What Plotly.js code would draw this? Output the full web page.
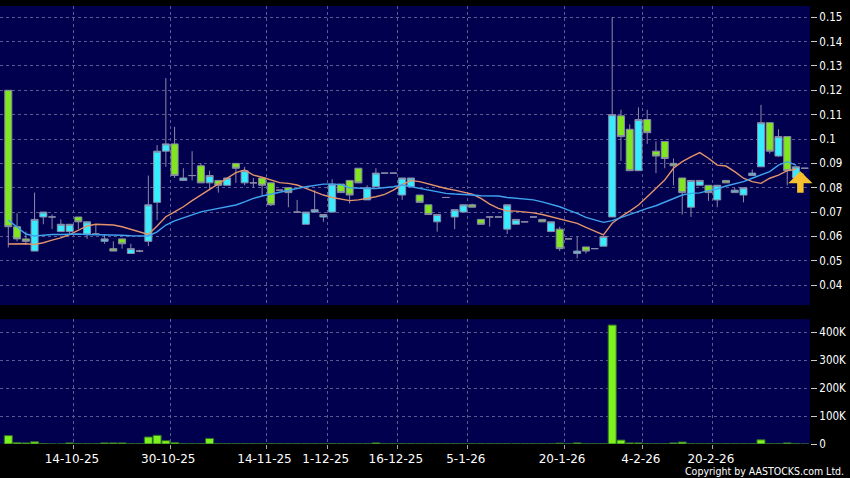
<!DOCTYPE html>
<html><head><meta charset="utf-8">
<script src="https://cdn.plot.ly/plotly-3.0.1.min.js"></script>
<style>html,body{margin:0;padding:0;background:#000;}#chart{width:850px;height:478px;}</style>
</head><body><div id="chart"></div>
<script>
// Daily OHLC (one entry per trading slot)
const openP = [0.120,0.064,0.059,0.054,0.068,0.068,0.062,0.062,0.068,0.061,
  0.061,0.058,0.055,0.059,0.053,0.054,0.058,0.074,0.095,0.098,
  0.083,0.085,0.089,0.082,0.083,0.081,0.090,0.082,0.082,0.084,
  0.082,0.079,0.080,0.070,0.065,0.070,0.068,0.070,0.0815,0.083,
  0.088,0.075,0.0805,0.086,0.086,0.077,0.0805,0.077,0.073,0.066,
  0.076,0.068,0.070,0.073,0.067,0.068,0.068,0.063,0.065,0.066,
  0.068,0.067,0.062,0.063,0.059,0.053,0.0557,0.055,0.056,0.068,
  0.1095,0.104,0.087,0.108,0.095,0.099,0.090,0.084,0.072,0.081,
  0.081,0.075,0.083,0.078,0.077,0.085,0.0886,0.1067,0.093,0.101,
  0.084,0.088];
const highP = [0.120,0.0695,0.062,0.078,0.070,0.069,0.067,0.065,0.068,0.066,
  0.065,0.061,0.058,0.059,0.057,0.0545,0.085,0.0975,0.125,0.105,
  0.088,0.095,0.090,0.087,0.083,0.084,0.090,0.0886,0.084,0.084,
  0.082,0.079,0.080,0.075,0.070,0.079,0.069,0.0835,0.0815,0.083,
  0.088,0.081,0.088,0.086,0.086,0.084,0.084,0.077,0.073,0.069,
  0.076,0.071,0.073,0.0735,0.067,0.068,0.068,0.073,0.067,0.066,
  0.068,0.067,0.066,0.064,0.059,0.060,0.0557,0.055,0.060,0.150,
  0.112,0.106,0.113,0.112,0.099,0.099,0.092,0.084,0.083,0.083,
  0.081,0.081,0.083,0.080,0.080,0.0875,0.114,0.1067,0.104,0.101,
  0.089,0.088];
const lowP = [0.0555,0.058,0.0565,0.054,0.065,0.063,0.062,0.0605,0.063,0.059,
  0.061,0.057,0.054,0.055,0.053,0.0535,0.056,0.0667,0.0886,0.084,
  0.083,0.083,0.082,0.079,0.078,0.081,0.082,0.081,0.080,0.0766,
  0.0725,0.079,0.072,0.070,0.065,0.070,0.066,0.070,0.078,0.0735,
  0.082,0.075,0.0805,0.086,0.086,0.075,0.0805,0.074,0.069,0.062,
  0.076,0.063,0.070,0.072,0.065,0.064,0.068,0.061,0.065,0.066,
  0.068,0.066,0.062,0.054,0.059,0.051,0.053,0.055,0.056,0.068,
  0.091,0.087,0.087,0.098,0.086,0.088,0.081,0.069,0.068,0.081,
  0.0746,0.072,0.082,0.078,0.074,0.085,0.0886,0.094,0.0927,0.081,
  0.084,0.088];
const closeP = [0.064,0.059,0.058,0.067,0.070,0.068,0.065,0.065,0.066,0.066,
  0.061,0.059,0.054,0.057,0.055,0.054,0.073,0.095,0.098,0.085,
  0.084,0.085,0.082,0.085,0.081,0.084,0.088,0.087,0.082,0.081,
  0.073,0.079,0.078,0.070,0.070,0.071,0.069,0.0815,0.078,0.077,
  0.082,0.080,0.086,0.086,0.086,0.084,0.084,0.074,0.069,0.069,
  0.076,0.071,0.073,0.072,0.065,0.068,0.068,0.073,0.067,0.066,
  0.068,0.066,0.066,0.055,0.059,0.054,0.054,0.055,0.060,0.110,
  0.101,0.087,0.108,0.1026,0.093,0.092,0.089,0.078,0.083,0.083,
  0.078,0.081,0.082,0.079,0.080,0.086,0.1067,0.095,0.101,0.087,
  0.0886,0.088];
// Moving averages as drawn on the chart (short = orange, long = blue)
const maShort = [0.0569,0.0571,0.0570,0.0567,0.0574,0.0585,0.0594,0.0608,0.0626,0.0643,
  0.0650,0.0650,0.0647,0.0640,0.0630,0.0620,0.0608,0.0643,0.0681,0.0701,
  0.0722,0.0747,0.0770,0.0791,0.0814,0.0839,0.0862,0.0873,0.0852,0.0843,
  0.0832,0.0821,0.0818,0.0811,0.0797,0.0783,0.0770,0.0760,0.0752,0.0747,
  0.0750,0.0756,0.0763,0.0773,0.0790,0.0813,0.0829,0.0825,0.0815,0.0807,
  0.0797,0.0790,0.0781,0.0774,0.0756,0.0733,0.0715,0.0705,0.0704,0.0701,
  0.0697,0.0690,0.0681,0.0672,0.0660,0.0654,0.0637,0.0623,0.0606,0.0654,
  0.0681,0.0704,0.0729,0.0763,0.0797,0.0832,0.0880,0.0907,0.0927,0.0944,
  0.0921,0.0893,0.0889,0.0866,0.0839,0.0825,0.0818,0.0839,0.0852,0.0870,
  0.0876,null];
const maLong = [0.0667,0.0640,0.0610,0.0602,0.0606,0.0608,0.0608,0.0610,0.0610,0.0608,
  0.0608,0.0608,0.0606,0.0605,0.0603,0.0603,0.0602,0.0619,0.0647,0.0664,
  0.0677,0.0691,0.0701,0.0708,0.0715,0.0719,0.0729,0.0742,0.0756,0.0766,
  0.0774,0.0784,0.0790,0.0797,0.0804,0.0811,0.0815,0.0815,0.0813,0.0800,
  0.0797,0.0797,0.0797,0.0800,0.0804,0.0811,0.0804,0.0797,0.0790,0.0784,
  0.0777,0.0774,0.0773,0.0770,0.0767,0.0767,0.0766,0.0760,0.0756,0.0752,
  0.0750,0.0742,0.0733,0.0722,0.0708,0.0695,0.0678,0.0667,0.0658,0.0665,
  0.0678,0.0692,0.0704,0.0715,0.0726,0.0740,0.0756,0.0770,0.0777,0.0779,
  0.0788,0.0795,0.0807,0.0815,0.0825,0.0839,0.0852,0.0866,0.0893,0.0907,
  0.0893,null];
const volume = [30000,5000,4000,8000,1500,0,0,4000,1000,1000,
  1000,4000,4000,4000,1000,500,25000,31000,12000,5000,
  1000,1000,1000,20000,1000,500,500,500,500,500,
  500,500,500,500,1000,500,500,1000,500,500,
  500,500,4000,500,500,500,500,500,500,1000,
  500,500,500,500,500,500,500,500,500,500,
  500,500,500,3000,500,4000,500,500,1000,425000,
  14000,4000,4000,1000,1000,500,4000,7000,1000,500,
  500,500,500,500,500,500,15000,1000,500,4000,
  1000,0];
const dateLabels = ['14-10-25','30-10-25','14-11-25','1-12-25','16-12-25','5-1-26','20-1-26','4-2-26','20-2-26'];
const dateSlots = [7.5,18.5,29.5,36.5,44.5,52.5,63.5,72.5,80.5];
const priceTicks = [0.04,0.05,0.06,0.07,0.08,0.09,0.1,0.11,0.12,0.13,0.14,0.15];
const priceTickText = ['0.04','0.05','0.06','0.07','0.08','0.09','0.1','0.11','0.12','0.13','0.14','0.15'];
const volTicks = [0,100000,200000,300000,400000];
const volTickText = ['0','100K','200K','300K','400K'];

const slots = openP.map((_, i) => i);
const gridColor = '#5a5a8e';
const tickFont = {family: 'DejaVu Sans Condensed, DejaVu Sans', size: 11.5, color: '#ffffff'};

const traces = [
  {type: 'bar', x: slots, y: volume, xaxis: 'x', yaxis: 'y',
   marker: {color: '#7df21d', line: {color: '#2f6a2a', width: 1}}, hoverinfo: 'skip'},
  {type: 'candlestick', x: slots, open: openP, high: highP, low: lowP, close: closeP,
   xaxis: 'x2', yaxis: 'y2', whiskerwidth: 0,
   increasing: {fillcolor: '#38ecff', line: {color: '#8a8aa6', width: 1}},
   decreasing: {fillcolor: '#80e620', line: {color: '#8a8aa6', width: 1}},
   hoverinfo: 'skip'},
  {type: 'scatter', mode: 'lines', x: slots, y: maShort, xaxis: 'x2', yaxis: 'y2',
   line: {color: '#e3936a', width: 1.4}, hoverinfo: 'skip'},
  {type: 'scatter', mode: 'lines', x: slots, y: maLong, xaxis: 'x2', yaxis: 'y2',
   line: {color: '#3fa3ee', width: 1.4}, hoverinfo: 'skip'}
];

const xBase = {
  range: [-0.95, 91.6], tickmode: 'array', tickvals: dateSlots, ticktext: dateLabels,
  showgrid: true, gridcolor: gridColor, griddash: '3px,3px', gridwidth: 1,
  zeroline: false, showline: false, rangeslider: {visible: false}, fixedrange: true
};

const layout = {
  width: 850, height: 478,
  paper_bgcolor: '#000000', plot_bgcolor: '#00004f',
  margin: {l: 0, r: 40, t: 6, b: 34},
  showlegend: false, bargap: 0.08, boxgap: 0.2, boxgroupgap: 0,
  xaxis: Object.assign({}, xBase, {anchor: 'y', ticks: 'outside', ticklen: 4, tickcolor: '#aaaaaa',
    tickfont: {family: 'DejaVu Sans', size: 12, color: '#ffffff'}, ticklabelshift: -2}),
  xaxis2: Object.assign({}, xBase, {anchor: 'y2', matches: 'x', showticklabels: false, ticks: ''}),
  yaxis: {domain: [0, 0.285], side: 'right', range: [0, 446000], tickmode: 'array',
    tickvals: volTicks, ticktext: volTickText, showgrid: true, gridcolor: gridColor, griddash: '3px,3px',
    zeroline: false, ticks: 'outside', ticklen: 6, tickcolor: '#cccccc', tickfont: tickFont, fixedrange: true},
  yaxis2: {domain: [0.317, 1], side: 'right', range: [0.0318, 0.1546], tickmode: 'array',
    tickvals: priceTicks, ticktext: priceTickText, showgrid: true, gridcolor: gridColor, griddash: '3px,3px',
    zeroline: false, ticks: 'outside', ticklen: 6, tickcolor: '#cccccc', tickfont: tickFont, fixedrange: true},
  annotations: [
    {xref: 'x2', yref: 'y2', x: 90.5, y: 0.0868, text: '', showarrow: true,
     arrowhead: 1, arrowsize: 0.62, arrowwidth: 6.5, arrowcolor: '#f6c02e', ax: 0, ay: 23},
    {xref: 'paper', yref: 'paper', x: 1.0444, y: -0.062, xanchor: 'right', yanchor: 'middle',
     text: 'Copyright by AASTOCKS.com Ltd.', showarrow: false,
     font: {family: 'DejaVu Sans Condensed, DejaVu Sans', size: 10.5, color: '#ffffff'}}
  ]
};

Plotly.newPlot('chart', traces, layout, {displayModeBar: false, staticPlot: true});
</script>
</body></html>
